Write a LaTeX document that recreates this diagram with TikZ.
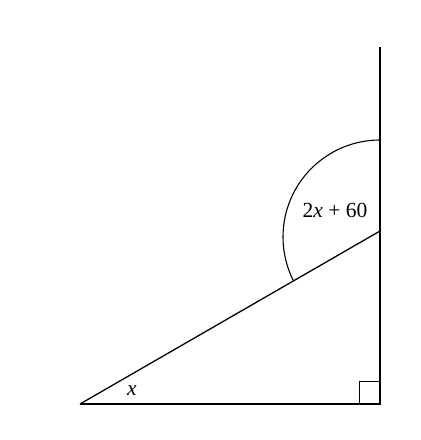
\documentclass[tikz,border=0pt]{standalone}
\usepackage{fontspec}
\setmainfont{Liberation Serif}
\begin{document}
\begin{tikzpicture}[x=1pt,y=-1pt,line width=1.3pt,
  lbl/.style={font=\fontsize{21.5}{24}\selectfont, inner sep=0pt}]
\useasboundingbox (0,0) rectangle (421,440);
\coordinate (A) at (80,404);
\coordinate (B) at (380,404);
\coordinate (T) at (380,47);
\coordinate (C) at (380,231);
\draw (A) -- (B) -- (T);
\draw (A) -- (C);
\draw (359.5,404) |- (380,381.5);
\draw[line width=1.1pt] (380,140) arc[start angle=-90, end angle=-206.5, radius=97];
\node[lbl] (ang) at (335,210) {2\textit{x} + 60};
\node[lbl] (xl) at (132,391) {\textit{x}};
\end{tikzpicture}
\end{document}
